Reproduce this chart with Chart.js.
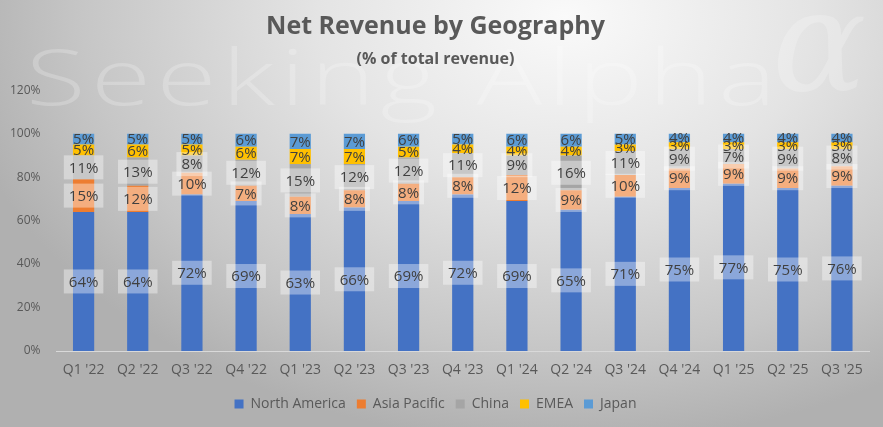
<!DOCTYPE html>
<html>
<head>
<meta charset="utf-8">
<script src="https://cdn.jsdelivr.net/npm/chart.js@4"></script>
<style>
  html, body { margin: 0; padding: 0; }
  #wrap {
    width: 883px; height: 427px; position: relative;
    background: radial-gradient(ellipse 70% 100% at 64% 4%, #fafafa 0%, #e4e4e4 40%, #c6c6c6 78%, #b0b0b0 100%);
  }
</style>
</head>
<body>
<div id="wrap"><canvas id="chart"></canvas></div>
<script>
const quarters = ["Q1 '22", "Q2 '22", "Q3 '22", "Q4 '22", "Q1 '23", "Q2 '23", "Q3 '23", "Q4 '23",
  "Q1 '24", "Q2 '24", "Q3 '24", "Q4 '24", "Q1 '25", "Q2 '25", "Q3 '25"];
const northAmerica = [64, 64, 72, 69, 63, 66, 69, 72, 69, 65, 71, 75, 77, 75, 76];
const asiaPacific = [15, 12, 10, 7, 8, 8, 8, 8, 12, 9, 10, 9, 9, 9, 9];
const china = [11, 13, 8, 12, 15, 12, 12, 11, 9, 16, 11, 9, 7, 9, 8];
const emea = [5, 6, 5, 6, 7, 7, 5, 4, 4, 4, 3, 3, 3, 3, 3];
const japan = [5, 5, 5, 6, 7, 7, 6, 5, 6, 6, 5, 4, 4, 4, 4];

const FONT = 'Open Sans';

// faint "Seeking Alpha" watermark behind the chart
const watermark = {
  id: 'watermark',
  beforeDraw(chart) {
    const ctx = chart.ctx;
    ctx.save();
    ctx.fillStyle = 'rgba(255,255,255,0.22)';
    ctx.font = '300 78px "' + FONT + '"';
    const txt = 'Seeking Alpha';
    const sx = 1.4;
    const w = ctx.measureText(txt).width * sx;
    ctx.letterSpacing = Math.max(0, (750 - w) / 12 / sx) + 'px';
    ctx.translate(26, 83);
    ctx.scale(sx, 1);
    ctx.fillText(txt, 0, 0);
    ctx.restore();
    ctx.save();
    ctx.fillStyle = 'rgba(255,255,255,0.22)';
    ctx.font = 'italic 140px "DejaVu Serif"';
    ctx.fillText('α', 772, 54);
    ctx.restore();
  }
};

// percent labels in the middle of each segment, boxed for the three big series
const segLabels = {
  id: 'segLabels',
  afterDatasetsDraw(chart) {
    const ctx = chart.ctx;
    ctx.save();
    ctx.font = '15px "' + FONT + '"';
    ctx.textAlign = 'center';
    ctx.textBaseline = 'middle';
    chart.data.datasets.forEach((ds, i) => {
      const meta = chart.getDatasetMeta(i);
      meta.data.forEach((bar, j) => {
        const p = bar.getProps(['x', 'y', 'base'], true);
        const cy = (p.y + p.base) / 2;
        const txt = ds.data[j] + '%';
        if (i < 3) {
          const w = ctx.measureText(txt).width + 10;
          ctx.fillStyle = 'rgba(255,255,255,0.38)';
          ctx.fillRect(p.x - w / 2, cy - 12, w, 24);
        }
        ctx.fillStyle = '#404040';
        ctx.fillText(txt, p.x, cy + 1);
      });
    });
    ctx.restore();
  }
};

const mk = (label, data, color) => ({
  label: label, data: data, backgroundColor: color,
  barPercentage: 0.8, categoryPercentage: 0.49
});

new Chart(document.getElementById('chart'), {
  type: 'bar',
  data: {
    labels: quarters,
    datasets: [
      mk('North America', northAmerica, '#4472C4'),
      mk('Asia Pacific', asiaPacific, '#ED7D31'),
      mk('China', china, '#A5A5A5'),
      mk('EMEA', emea, '#FFC000'),
      mk('Japan', japan, '#5B9BD5')
    ]
  },
  options: {
    responsive: true,
    maintainAspectRatio: false,
    animation: false,
    layout: { padding: { left: 2, right: 14, top: 0, bottom: 6 } },
    plugins: {
      title: {
        display: true,
        text: 'Net Revenue by Geography',
        color: '#595959',
        font: { family: FONT, size: 25, weight: 'bold' },
        padding: { top: 12, bottom: 8 }
      },
      subtitle: {
        display: true,
        text: '(% of total revenue)',
        color: '#595959',
        font: { family: FONT, size: 16, weight: 'bold' },
        padding: { top: 0, bottom: 21 }
      },
      legend: {
        position: 'bottom',
        labels: {
          color: '#595959',
          font: { family: FONT, size: 14 },
          boxWidth: 9, boxHeight: 9, padding: 11
        }
      },
      tooltip: { enabled: false }
    },
    scales: {
      x: {
        stacked: true,
        grid: { display: false, tickLength: 5 },
        border: { color: '#d9d9d9' },
        ticks: { color: '#595959', font: { family: FONT, size: 14 }, padding: 6 },
        afterFit: s => { s.height = 35; }
      },
      y: {
        stacked: true,
        min: 0, max: 120,
        grid: { display: false },
        border: { display: false },
        ticks: {
          stepSize: 20,
          color: '#595959',
          font: { family: FONT, size: 12 },
          padding: 8,
          callback: v => v + '%'
        }
      }
    }
  },
  plugins: [watermark, segLabels]
});
</script>
</body>
</html>
